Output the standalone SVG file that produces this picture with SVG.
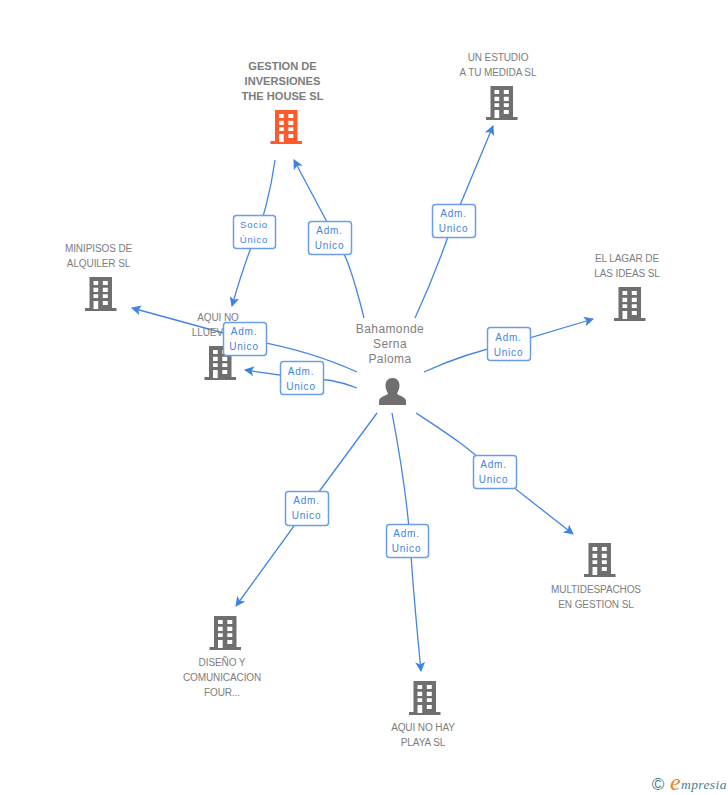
<svg xmlns="http://www.w3.org/2000/svg" xmlns:xlink="http://www.w3.org/1999/xlink" width="728" height="795" viewBox="0 0 728 795">
<style>
text{font-family:"Liberation Sans",Arial,sans-serif}
.n{font-size:10px;fill:#7d7d7d;text-anchor:middle;letter-spacing:-.1px}
.b{font-size:11.100px;font-weight:bold;fill:#7d7d7d;text-anchor:middle}
.p{font-size:12px;fill:#808080;text-anchor:middle;letter-spacing:.4px}
.l{font-size:10px;fill:#3f83e0;text-anchor:middle;letter-spacing:.8px}
.c{fill:none;stroke:#4285e4;stroke-width:1.3}
.r{fill:#fff;stroke:#6a9fe8;stroke-width:1.5}
.g{fill:#6f6f6f}
.o{fill:#ff5a2b}
</style>
<defs>
<marker id="a" markerWidth="11" markerHeight="10" refX="9" refY="5" orient="auto" markerUnits="userSpaceOnUse"><path d="M0 0L10 5L0 10L2.5 5Z" fill="#3f83e0"/></marker>
<path id="i" fill-rule="evenodd" d="M4.500 0H27V31H31.500V34H0V31H4.500ZM8.500 4V8H13.200V4ZM17.800 4V8H22.800V4ZM8.500 10.700V15H13.200V10.700ZM17.800 10.700V15H22.800V10.700ZM8.500 17.300V21H13.200V17.300ZM17.800 17.300V21H22.800V17.300ZM8.500 24V32H13.200V24ZM17.800 24V28H22.800V24Z"/>
</defs>
<g id="connectors">
<path class="c" marker-end="url(#a)" d="M275 160C271 190 262 225 254 240C245 262 238 285 232 306"/>
<path class="c" marker-end="url(#a)" d="M364 318C357 290 350 265 343 252L294 160"/>
<path class="c" marker-end="url(#a)" d="M415 318C428 290 442 255 453 222L493 126"/>
<path class="c" marker-end="url(#a)" d="M424 372C450 360 480 350 509 344L593 319"/>
<path class="c" marker-end="url(#a)" d="M416 413C445 432 470 448 494 472L573 534"/>
<path class="c" marker-end="url(#a)" d="M392 413C400 455 407 500 410 540C413 590 418 640 421 671"/>
<path class="c" marker-end="url(#a)" d="M377 413L307 508L236 606"/>
<path class="c" marker-end="url(#a)" d="M357 388C340 381 320 378 301 378L245 370"/>
<path class="c" marker-end="url(#a)" d="M357 372C320 355 280 345 245 339L132 308"/>
</g>
<g id="node-gestion"><text class="b" x="282.500" y="70">GESTION DE</text><text class="b" x="282.500" y="85">INVERSIONES</text><text class="b" x="282.500" y="100">THE HOUSE SL</text><use href="#i" class="o" x="270.500" y="110"/></g>
<g id="node-estudio"><text class="n" x="498" y="61">UN ESTUDIO</text><text class="n" x="498" y="76">A TU MEDIDA SL</text><use href="#i" class="g" x="486" y="86"/></g>
<g id="node-minipisos"><text class="n" x="98.500" y="252">MINIPISOS DE</text><text class="n" x="98.500" y="267">ALQUILER SL</text><use href="#i" class="g" x="85" y="277"/></g>
<g id="node-llueve"><text class="n" x="218" y="321">AQUI NO</text><text class="n" x="218" y="336">LLUEVE SL</text><use href="#i" class="g" x="204.500" y="346"/></g>
<g id="node-lagar"><text class="n" x="627" y="262">EL LAGAR DE</text><text class="n" x="627" y="277">LAS IDEAS SL</text><use href="#i" class="g" x="614" y="287"/></g>
<g id="node-multi"><use href="#i" class="g" x="584" y="543"/><text class="n" x="596" y="593">MULTIDESPACHOS</text><text class="n" x="596" y="608">EN GESTION SL</text></g>
<g id="node-diseno"><use href="#i" class="g" x="209.500" y="616"/><text class="n" x="222" y="666">DISEÑO Y</text><text class="n" x="222" y="681">COMUNICACION</text><text class="n" x="222" y="696">FOUR...</text></g>
<g id="node-playa"><use href="#i" class="g" x="409" y="681"/><text class="n" x="423" y="731">AQUI NO HAY</text><text class="n" x="423" y="746">PLAYA SL</text></g>
<g id="node-person"><text class="p" x="390" y="333">Bahamonde</text><text class="p" x="390" y="348">Serna</text><text class="p" x="390" y="363">Paloma</text><path class="g" d="M392.500 378C397 378 399.500 381.500 399.500 385.500C399.500 389 398 391.500 397 393.500C397.500 395.500 406 396.500 406 401V405H379V401C379 396.500 387.500 395.500 388 393.500C387 391.500 385.500 389 385.500 385.500C385.500 381.500 388 378 392.500 378Z"/></g>
<g id="labels">
<g><rect class="r" x="233.500" y="215.500" width="42" height="33" rx="3"/><text class="l" x="254" y="228" style="font-size:9.500px">Socio</text><text class="l" x="254" y="243" style="font-size:9.500px">Único</text></g>
<g><rect class="r" x="308.500" y="221.500" width="43" height="33" rx="3"/><text class="l" x="329.500" y="234">Adm.</text><text class="l" x="329.500" y="249">Unico</text></g>
<g><rect class="r" x="432.500" y="204.500" width="43" height="33" rx="3"/><text class="l" x="453.500" y="217">Adm.</text><text class="l" x="453.500" y="232">Unico</text></g>
<g><rect class="r" x="223.500" y="322.500" width="43" height="33" rx="3"/><text class="l" x="244" y="335">Adm.</text><text class="l" x="244" y="350">Unico</text></g>
<g><rect class="r" x="280.500" y="361.500" width="43" height="33" rx="3"/><text class="l" x="301" y="375">Adm.</text><text class="l" x="301" y="390">Unico</text></g>
<g><rect class="r" x="487.500" y="327.500" width="43" height="33" rx="3"/><text class="l" x="508.500" y="341">Adm.</text><text class="l" x="508.500" y="356">Unico</text></g>
<g><rect class="r" x="473.500" y="455.500" width="43" height="33" rx="3"/><text class="l" x="493.500" y="468">Adm.</text><text class="l" x="493.500" y="483">Unico</text></g>
<g><rect class="r" x="285.500" y="491.500" width="43" height="34" rx="3"/><text class="l" x="306.500" y="504">Adm.</text><text class="l" x="306.500" y="519">Unico</text></g>
<g><rect class="r" x="386.500" y="524.500" width="42" height="33" rx="3"/><text class="l" x="406.500" y="537">Adm.</text><text class="l" x="406.500" y="552">Unico</text></g>
</g>
<g id="logo"><text x="658" y="790" style="font-size:17px;fill:#3f7f95;text-anchor:middle">©</text><text x="670" y="790" style="font-size:24px;font-family:'Liberation Serif',serif;font-style:italic;fill:#f08020">e</text><text x="681" y="789" style="font-size:13.500px;font-family:'Liberation Serif',serif;font-style:italic;fill:#3f7f95;letter-spacing:.4px">mpresia</text></g>
</svg>
